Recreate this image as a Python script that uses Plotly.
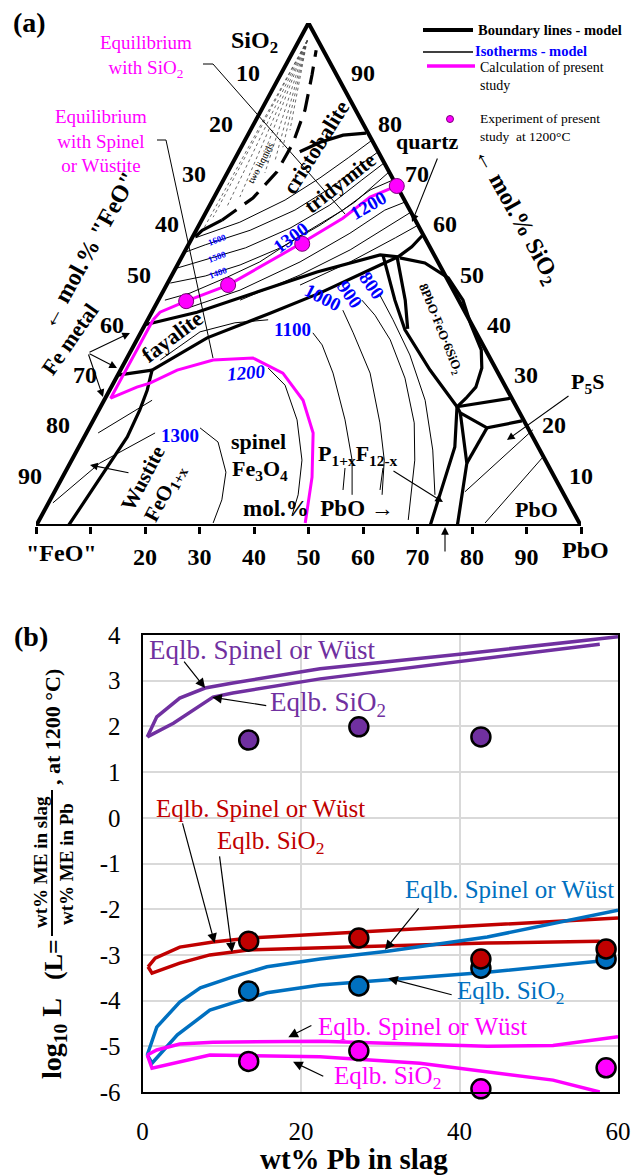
import plotly.graph_objects as go

W, H = 639, 1175
SERIF = "Liberation Serif"

# ======================= Panel (a): PbO-"FeO"-SiO2, mol% =======================
# each line: SiO2 values and PbO values ("FeO" = 100 - SiO2 - PbO)
triangle_si = [0, 100, 0, 0]
triangle_pb = [0, 0, 100, 0]

# thick model boundary lines
wus_sp_si = [0.0, 9.5, 17.7, 23.1, 27.0, 31.0]
wus_sp_pb = [5.9, 7.0, 7.9, 7.5, 6.9, 5.8]
wus_fay_si = [31.0, 30.0]
wus_fay_pb = [5.8, 0.0]
fay_sp_si = [31.0, 37.4, 42.3, 46.3, 51.9, 53.5]
fay_sp_pb = [5.8, 12.7, 21.8, 28.9, 37.2, 39.7]
fay_trid_si = [40.0, 42.5, 46.5, 50.5, 53.9, 53.5]
fay_trid_pb = [0.0, 8.3, 17.3, 26.3, 36.2, 39.7]
trid_sp_si = [53.5, 55.5, 57.7]
trid_sp_pb = [39.7, 41.2, 42.0]
sp_p8_si = [53.9, 44.9, 39.0, 31.0, 23.7]
sp_p8_pb = [36.7, 43.4, 48.2, 56.8, 65.4]
sp_p8b_si = [53.5, 44.9, 39.2]
sp_p8b_pb = [39.5, 45.3, 48.6]
p8_top_si = [53.3, 52.3, 49.3, 44.9, 40.0, 35.0, 31.4, 27.6, 25.4, 23.7]
p8_top_pb = [40.1, 45.2, 51.0, 55.9, 59.8, 64.2, 66.1, 66.9, 66.2, 65.4]
p8_low_si = [23.7, 25.4]
p8_low_pb = [65.4, 74.3]
p5s_si = [23.7, 22.5, 19.5, 20.9]
p5s_pb = [65.4, 66.6, 73.0, 78.7]
p5s_low_si = [19.5, 12.5]
p5s_low_pb = [73.0, 72.8]
sp_pf_si = [23.7, 15.7, 0.0]
sp_pf_pb = [65.4, 69.0, 72.3]
pf_pbo_si = [22.5, 12.5, 0.0]
pf_pbo_pb = [66.6, 72.8, 77.3]
crist_trid_si = [74.4, 76.3, 77.7, 78.1]
crist_trid_pb = [11.2, 14.0, 17.5, 21.5]
twoliq_solid_si = [57.5, 58.8, 60.8]
twoliq_solid_pb = [0.5, 1.1, 3.7]
twoliq_dash_si = [60.8, 65.2, 70.4, 76.1, 82.7, 89.7, 94.6]
twoliq_dash_pb = [3.7, 7.2, 9.0, 9.1, 8.0, 5.8, 4.1]

# tie lines in the two-liquid region (from SiO2-rich liquid)
tie_start_si, tie_start_pb = 96.5, 1.5
tie_end_si = [58.8, 61.4, 63.4, 65.4, 68.2, 70.2, 72.8, 75.3, 78.7]
tie_end_pb = [1.2, 1.8, 3.3, 4.7, 5.7, 6.9, 7.5, 7.65, 7.25]

# thin model isotherms
iso_1700_si = [57.3, 60.4, 64.8, 69.2, 73.2, 76.7]
iso_1700_pb = [0.6, 7.2, 13.3, 17.5, 20.7, 23.3]
iso_1600_si = [54.5, 55.9, 58.8, 62.8, 67.8, 71.8, 74.4]
iso_1600_pb = [0.3, 3.1, 9.9, 16.1, 21.0, 23.6, 25.6]
iso_1500_si = [51.3, 52.9, 55.3, 59.2, 63.8, 68.8, 72.2]
iso_1500_pb = [0.3, 4.6, 10.8, 17.0, 22.0, 25.4, 27.8]
iso_1400_si = [48.3, 49.7, 51.9, 55.3, 59.8, 64.4, 70.4]
iso_1400_pb = [0.5, 6.2, 11.5, 17.2, 22.2, 26.3, 29.6]
iso_1300_si = [44.9, 46.3, 49.5, 52.5, 57.7, 62.8, 66.8, 68.8]
iso_1300_pb = [1.2, 5.1, 10.4, 14.8, 19.6, 24.9, 27.9, 31.1]
iso_1100s_si = [43.5, 46.9, 52.5, 58.2, 62.8, 64.4]
iso_1100s_pb = [6.55, 14.0, 22.2, 28.5, 32.6, 35.5]
iso_1000s_si = [44.9, 49.9, 54.9, 59.8, 62.4]
iso_1000s_pb = [15.0, 23.5, 30.2, 35.1, 37.6]
iso_900s_si = [47.9, 52.5, 57.3, 59.8]
iso_900s_pb = [24.5, 31.4, 37.3, 40.2]
arc_1300a_si = [4.6, 12.5, 18.5]
arc_1300a_pb = [0.8, 5.45, 12.6]
arc_1300b_si = [19.5, 16.7, 10.7, 5.2, 0.6]
arc_1300b_pb = [20.35, 25.05, 29.5, 31.5, 32.2]
arc_1200_si = [31.4, 28.0, 21.1, 13.1, 6.2, 2.2]
arc_1200_pb = [26.9, 31.7, 37.35, 42.25, 45.0, 45.9]
arc_1100a_si = [33.0, 38.6, 40.4, 41.0]
arc_1100a_pb = [6.3, 10.8, 16.3, 22.1]
arc_1100b_si = [38.4, 36.0, 30.4, 21.1, 13.1, 6.2]
arc_1100b_pb = [31.6, 34.5, 39.3, 46.15, 51.45, 54.9]
arc_1000_si = [42.9, 38.4, 30.4, 20.5, 13.1, 6.2]
arc_1000_pb = [34.85, 39.0, 46.1, 52.85, 57.35, 60.4]
arc_900_si = [44.9, 41.9, 37.0, 29.4, 20.5, 13.1, 1.2]
arc_900_pb = [37.35, 41.25, 46.5, 53.0, 59.15, 62.95, 67.7]
arc_800_si = [45.9, 41.0, 34.0, 25.0, 15.1, 6.2]
arc_800_pb = [40.15, 45.0, 51.6, 58.9, 65.25, 70.1]
wus_iso_si = [18.5, 25.0]
wus_iso_pb = [2.15, 8.8]
pbo_iso1_si = [0.6, 13.5]
pbo_iso1_pb = [82.1, 86.1]
pbo_iso2_si = [6.8, 19.1]
pbo_iso2_pb = [75.3, 81.6]

# calculation of present study (1200 C liquidus)
calc_sio2_si = [41.0, 42.5, 44.7, 47.9, 56.3, 61.2, 65.4, 67.6]
calc_sio2_pb = [1.0, 1.5, 5.2, 11.3, 20.7, 25.7, 28.6, 32.4]
calc_spinel_si = [0.6, 9.7, 18.5, 25.0, 30.4, 33.4, 33.0, 31.0, 28.4, 27.6, 25.4, 41.0]
calc_spinel_pb = [49.1, 45.8, 41.6, 36.5, 30.1, 23.1, 16.0, 10.4, 6.7, 4.7, 1.0, 1.0]

# experiments of present study at 1200 C
exp_si = [44.7, 47.9, 56.1, 67.6]
exp_pb = [5.2, 11.3, 20.8, 32.4]

tern_ticks = list(range(0, 101, 10))
tern_tick_text = ["", "", "20", "30", "40", "50", "60", "70", "80", "90", ""]
side_ticks = [10, 20, 30, 40, 50, 60, 70, 80, 90]

# ======================= Panel (b): distribution coefficients =======================
pb_slag_exp = [13.4, 27.3, 42.7, 58.5]
logL_exp_purple = [1.70, 1.99, 1.77]
logL_exp_red = [-2.70, -2.63, -3.09, -2.87]
logL_exp_blue = [-3.79, -3.68, -3.29, -3.09]
logL_exp_magenta = [-5.33, -5.10, -5.93, -5.47]

purple_sp_x = [0.6, 1.8, 4.7, 7.9, 11.4, 22.4, 40.0, 60.0]
purple_sp_y = [1.77, 2.21, 2.62, 2.84, 2.95, 3.26, 3.58, 3.96]
purple_si_x = [0.6, 3.9, 8.9, 11.4, 22.4, 40.0, 57.7]
purple_si_y = [1.77, 2.07, 2.64, 2.73, 3.04, 3.41, 3.80]

red_sp_x = [0.7, 1.6, 4.7, 8.9, 13.6, 27.1, 43.5, 60.0]
red_sp_y = [-3.26, -3.07, -2.83, -2.72, -2.63, -2.50, -2.33, -2.19]
red_si_x = [0.7, 1.2, 4.7, 8.5, 13.6, 27.1, 43.5, 57.7]
red_si_y = [-3.26, -3.40, -3.18, -3.00, -2.89, -2.83, -2.74, -2.70]

blue_sp_x = [0.6, 1.8, 4.7, 7.3, 11.4, 15.7, 22.4, 30.9, 43.5, 51.8, 60.0]
blue_sp_y = [-5.19, -4.58, -4.03, -3.72, -3.48, -3.26, -3.09, -2.92, -2.61, -2.31, -2.02]
blue_si_x = [0.6, 1.2, 4.4, 8.5, 11.4, 15.7, 22.4, 43.5, 58.1]
blue_si_y = [-5.19, -5.37, -4.75, -4.21, -4.05, -3.83, -3.66, -3.38, -3.13]

mag_sp_x = [0.6, 1.8, 4.7, 8.9, 22.4, 35.0, 43.5, 51.8, 60.0]
mag_sp_y = [-5.19, -5.08, -4.95, -4.91, -4.89, -4.96, -5.00, -4.98, -4.79]
mag_si_x = [0.6, 1.2, 8.5, 22.4, 35.0, 43.5, 51.8, 57.7]
mag_si_y = [-5.19, -5.48, -5.19, -5.23, -5.37, -5.55, -5.74, -6.00]

x_ticks_b = [0, 20, 40, 60]
y_ticks_b = list(range(-6, 5))

PURPLE, RED, BLUE, MAG = "#7030A0", "#C00000", "#0070C0", "#FF00FF"
ISO_BLUE = "#0000FF"


def tern_xy(si, pb):
    return [p + s / 2.0 for s, p in zip(si, pb)], list(si)


def joined(lines):
    X, Y = [], []
    for si, pb in lines:
        x, y = tern_xy(si, pb)
        X += x + [None]
        Y += y + [None]
    return X, Y


fig = go.Figure()


def tline(lines, width, color="black", dash="solid"):
    X, Y = joined(lines)
    fig.add_trace(go.Scatter(x=X, y=Y, xaxis="x2", yaxis="y2", mode="lines",
                             line=dict(color=color, width=width, dash=dash),
                             cliponaxis=False, hoverinfo="skip", showlegend=False))


# thin isotherms
tline([(iso_1700_si, iso_1700_pb), (iso_1600_si, iso_1600_pb), (iso_1500_si, iso_1500_pb),
       (iso_1400_si, iso_1400_pb), (iso_1300_si, iso_1300_pb), (iso_1100s_si, iso_1100s_pb),
       (iso_1000s_si, iso_1000s_pb), (iso_900s_si, iso_900s_pb),
       (arc_1300a_si, arc_1300a_pb), (arc_1300b_si, arc_1300b_pb), (arc_1200_si, arc_1200_pb),
       (arc_1100a_si, arc_1100a_pb), (arc_1100b_si, arc_1100b_pb), (arc_1000_si, arc_1000_pb),
       (arc_900_si, arc_900_pb), (arc_800_si, arc_800_pb), (wus_iso_si, wus_iso_pb),
       (pbo_iso1_si, pbo_iso1_pb), (pbo_iso2_si, pbo_iso2_pb)], 1.0)
# dotted tie lines
tline([([tie_start_si, s], [tie_start_pb, p]) for s, p in zip(tie_end_si, tie_end_pb)], 0.8, "#444444", "dot")
# thick boundaries
tline([(wus_sp_si, wus_sp_pb), (wus_fay_si, wus_fay_pb), (fay_sp_si, fay_sp_pb),
       (fay_trid_si, fay_trid_pb), (trid_sp_si, trid_sp_pb), (sp_p8_si, sp_p8_pb),
       (sp_p8b_si, sp_p8b_pb),
       (p8_top_si, p8_top_pb), (p8_low_si, p8_low_pb), (p5s_si, p5s_pb), (p5s_low_si, p5s_low_pb),
       (sp_pf_si, sp_pf_pb), (pf_pbo_si, pf_pbo_pb), (crist_trid_si, crist_trid_pb),
       (twoliq_solid_si, twoliq_solid_pb)], 3.2)
tline([(twoliq_dash_si, twoliq_dash_pb)], 3.2, "black", "18px,10px")
# triangle
tline([(triangle_si, triangle_pb)], 4.0)
# calculations
tline([(calc_sio2_si, calc_sio2_pb), (calc_spinel_si, calc_spinel_pb)], 3.0, MAG)
ex, ey = tern_xy(exp_si, exp_pb)
fig.add_trace(go.Scatter(x=ex, y=ey, xaxis="x2", yaxis="y2", mode="markers",
                         marker=dict(size=15, color=MAG, line=dict(color="#7a007a", width=1)),
                         cliponaxis=False, hoverinfo="skip", showlegend=False))

# ---------------- Panel (b) traces ----------------
def bline(x, y, color):
    fig.add_trace(go.Scatter(x=x, y=y, mode="lines", line=dict(color=color, width=3.5),
                             hoverinfo="skip", showlegend=False))


def bpts(x, y, color):
    fig.add_trace(go.Scatter(x=x, y=y, mode="markers",
                             marker=dict(size=19, color=color, line=dict(color="black", width=2.5)),
                             cliponaxis=False, hoverinfo="skip", showlegend=False))


bline(purple_sp_x, purple_sp_y, PURPLE)
bline(purple_si_x, purple_si_y, PURPLE)
bline(red_sp_x, red_sp_y, RED)
bline(red_si_x, red_si_y, RED)
bline(blue_sp_x, blue_sp_y, BLUE)
bline(blue_si_x, blue_si_y, BLUE)
bline(mag_sp_x, mag_sp_y, MAG)
bline(mag_si_x, mag_si_y, MAG)
bpts(pb_slag_exp[:3], logL_exp_purple, PURPLE)
bpts(pb_slag_exp, logL_exp_blue, BLUE)
bpts(pb_slag_exp, logL_exp_red, RED)
bpts(pb_slag_exp, logL_exp_magenta, MAG)

# ---------------- annotations / shapes ----------------
ann = []
shapes = []


def P(px, py):
    return px / W, 1 - py / H


def text(t, px, py, size, color="black", bold=True, angle=0, italic=False,
         xanchor="center", align="center"):
    x, y = P(px, py)
    ann.append(dict(text=t, x=x, y=y, xref="paper", yref="paper", showarrow=False,
                    xanchor=xanchor, yanchor="middle", textangle=angle, align=align,
                    font=dict(family=SERIF, size=size, color=color,
                              weight="bold" if bold else "normal",
                              style="italic" if italic else "normal")))


def arrow(hx, hy, tx, ty, head=2):
    x, y = P(hx, hy)
    ann.append(dict(x=x, y=y, xref="paper", yref="paper", ax=tx - hx, ay=ty - hy, text="",
                    showarrow=True, arrowhead=head, arrowsize=1.4, arrowwidth=1.1, arrowcolor="black"))


def poly(pts, color="black", width=1.0):
    d = "M " + " L ".join(f"{px / W:.5f},{1 - py / H:.5f}" for px, py in pts)
    shapes.append(dict(type="path", path=d, xref="paper", yref="paper",
                       line=dict(color=color, width=width)))


# side tick labels of the ternary (data positioned)
for f in side_ticks:
    ann.append(dict(text=str(f), x=(100 - f) / 2.0, y=100 - f, xref="x2", yref="y2",
                    showarrow=False, xshift=-33, xanchor="center", yanchor="middle",
                    font=dict(family=SERIF, size=24, color="black", weight="bold")))
for s in side_ticks:
    ann.append(dict(text=str(s), x=100 - s / 2.0, y=s, xref="x2", yref="y2",
                    showarrow=False, xshift=27, xanchor="center", yanchor="middle",
                    font=dict(family=SERIF, size=24, color="black", weight="bold")))

text("(a)", 29, 22, 28)
text("(b)", 31, 636, 28)
text("SiO<sub>2</sub>", 254, 42, 24)
text('"FeO"', 61, 553, 24)
text("PbO", 585, 550, 24)
text("\u2190 mol.% \"FeO\"", 88, 251, 24, angle=-61)
text("\u2190 mol.% SiO<sub>2</sub>", 516, 216, 24, angle=61)
text("mol.%  PbO \u2192", 318, 508, 23)

text("Equilibrium<br>with SiO<sub>2</sub>", 146, 56, 19, MAG, bold=False)
text("Equilibrium<br>with Spinel<br>or W\u00fcstite", 101, 141, 19, MAG, bold=False)
poly([(203, 64), (213, 64), (345, 214)])
poly([(157, 140), (166, 140), (213, 358)])

text("cristobalite", 316, 148, 22, angle=-58)
text("tridymite", 340, 183, 21, angle=-38)
text("quartz", 427, 141, 22)
text("two liquids", 260, 163, 10, bold=False, angle=-62)
text("fayalite", 172, 336, 22, angle=-37)
text("Fe metal", 70, 340, 22, angle=-55)
text("Wustite", 143, 478, 21, angle=-62)
text("FeO<sub>1+x</sub>", 165, 493, 21, angle=-62)
text("spinel", 258, 442, 22)
text("Fe<sub>3</sub>O<sub>4</sub>", 260, 470, 22)
text("P<sub>1+x</sub>F<sub>12-x</sub>", 358, 455, 22)
text("8PbO\u00b7FeO\u00b76SiO<sub>2</sub>", 440, 330, 13, angle=68)
text("P<sub>5</sub>S", 587, 383, 22)
text("PbO", 536, 509, 22)

text("1600", 217, 240, 9, ISO_BLUE, angle=-20)
text("1500", 217, 257, 9, ISO_BLUE, angle=-20)
text("1400", 218, 273, 9, ISO_BLUE, angle=-20)
text("1300", 291, 238, 19, ISO_BLUE, angle=-36)
text("1200", 368, 205, 19, ISO_BLUE, angle=-30)
text("1000", 323, 297, 19, ISO_BLUE, angle=27)
text("900", 350, 294, 19, ISO_BLUE, angle=55)
text("800", 372, 285, 19, ISO_BLUE, angle=55)
text("1100", 292, 330, 19, ISO_BLUE)
text("1200", 247, 372, 19, ISO_BLUE, italic=True, angle=-5)
text("1300", 180, 435, 19, ISO_BLUE)

arrow(130, 333, 88, 353)
arrow(117, 368, 88, 353)
arrow(103, 397, 88, 353)
arrow(90, 465, 130, 473)
arrow(443, 502, 392, 470)
arrow(507, 440, 570, 395)
arrow(445, 527, 445, 553)
arrow(412, 222, 438, 157)
poly([(345, 468), (343, 490)])
poly([(383, 468), (380, 490)])

# legend of panel (a)
poly([(423, 30), (473, 30)], width=4)
poly([(423, 52), (473, 52)], width=1.5)
poly([(427, 66), (475, 66)], color=MAG, width=3.5)
cx, cy = P(450, 119)
shapes.append(dict(type="circle", xref="paper", yref="paper", x0=cx - 3.5 / W, x1=cx + 3.5 / W,
                   y0=cy - 3.5 / H, y1=cy + 3.5 / H, fillcolor=MAG, line=dict(color="#7a007a", width=1)))
text("Boundary lines - model", 476, 30, 14.5, xanchor="left")
text("Isotherms - model", 473, 51, 14.5, ISO_BLUE, xanchor="left")
text("Calculation of present<br>study", 478, 76, 14, bold=False, xanchor="left", align="left")
text("Experiment of present<br>study  at 1200\u00b0C", 478, 128, 13.5, bold=False, xanchor="left", align="left")

# ---------------- panel (b) labels ----------------
def blabel(t, x, y, color, size=25):
    ann.append(dict(text=t, x=x, y=y, xref="x", yref="y", showarrow=False, xanchor="left",
                    yanchor="middle", font=dict(family=SERIF, size=size, color=color)))


def barrow(hx, hy, tx, ty):
    ann.append(dict(x=hx, y=hy, ax=tx, ay=ty, xref="x", yref="y", axref="x", ayref="y", text="",
                    showarrow=True, arrowhead=2, arrowsize=1.6, arrowwidth=1.2, arrowcolor="black"))


blabel("Eqlb. Spinel or W\u00fcst", 0.57, 3.67, PURPLE, 27)
blabel("Eqlb. SiO<sub>2</sub>", 15.8, 2.49, PURPLE, 27)
blabel("Eqlb. Spinel or W\u00fcst", 1.45, 0.21, RED)
blabel("Eqlb. SiO<sub>2</sub>", 9.15, -0.53, RED)
blabel("Eqlb. Spinel or W\u00fcst", 32.9, -1.56, BLUE)
blabel("Eqlb. SiO<sub>2</sub>", 39.4, -3.83, BLUE)
blabel("Eqlb. Spinel or W\u00fcst", 21.9, -4.56, MAG)
blabel("Eqlb. SiO<sub>2</sub>", 23.9, -5.69, MAG)

barrow(7.9, 2.84, 5.1, 3.45)
barrow(8.8, 2.64, 15.8, 2.45)
barrow(9.1, -2.74, 5.0, -0.09)
barrow(11.3, -2.94, 9.7, -0.81)
barrow(30.6, -2.89, 35.0, -1.95)
barrow(31.0, -3.51, 39.2, -3.88)
barrow(18.4, -4.80, 21.5, -4.53)
barrow(19.0, -5.34, 23.0, -5.67)

# y-axis title of panel (b) (with stacked fraction)
text("log<sub>10</sub> L", 53, 1039, 28, angle=-90)
text("(L=", 53, 960, 26, angle=-90)
text("wt% ME in slag", 40, 862, 19, angle=-90)
text("wt% ME in Pb", 66, 864, 19, angle=-90)
poly([(52, 790), (52, 936)], width=2)
text(", at 1200 \u00b0C)", 52, 727, 22, angle=-90)
text("wt% Pb in slag", 354, 1159, 29)

axis_font = dict(family=SERIF, size=25, color="black")
fig.update_layout(
    width=W, height=H, margin=dict(l=0, r=0, t=0, b=0, autoexpand=False),
    paper_bgcolor="white", plot_bgcolor="white", showlegend=False,
    xaxis=dict(domain=[142.5 / W, 618 / W], range=[0, 60], anchor="y", automargin=False,
               tickvals=x_ticks_b, ticktext=[str(v) for v in x_ticks_b],
               showgrid=True, gridcolor="#d9d9d9", gridwidth=1.5, zeroline=False,
               showline=True, linecolor="black", linewidth=2, mirror=True, ticks="",
               ticklabelstandoff=16, tickfont=axis_font),
    yaxis=dict(domain=[(H - 1092) / H, (H - 635) / H], range=[-6, 4], anchor="x", automargin=False,
               tickvals=y_ticks_b, ticktext=[str(v) for v in y_ticks_b],
               showgrid=True, gridcolor="#d9d9d9", gridwidth=1.5, zeroline=False,
               showline=True, linecolor="black", linewidth=2, mirror=True, ticks="",
               ticklabelstandoff=15, tickfont=axis_font),
    xaxis2=dict(domain=[36 / W, 581 / W], range=[0, 100], anchor="y2", automargin=False,
                tickvals=tern_ticks, ticktext=tern_tick_text, ticks="outside", ticklen=7,
                tickwidth=3, tickcolor="black", showline=False, showgrid=False, zeroline=False,
                ticklabelstandoff=2,
                tickfont=dict(family=SERIF, size=24, color="black", weight="bold")),
    yaxis2=dict(domain=[(H - 526) / H, (H - 23) / H], range=[0, 100], anchor="x2",
                automargin=False, visible=False),
    annotations=ann, shapes=shapes,
)

fig.write_html("out.html", config={"displayModeBar": False},
               post_script="document.body.style.margin='0px';document.body.style.overflow='hidden';")
